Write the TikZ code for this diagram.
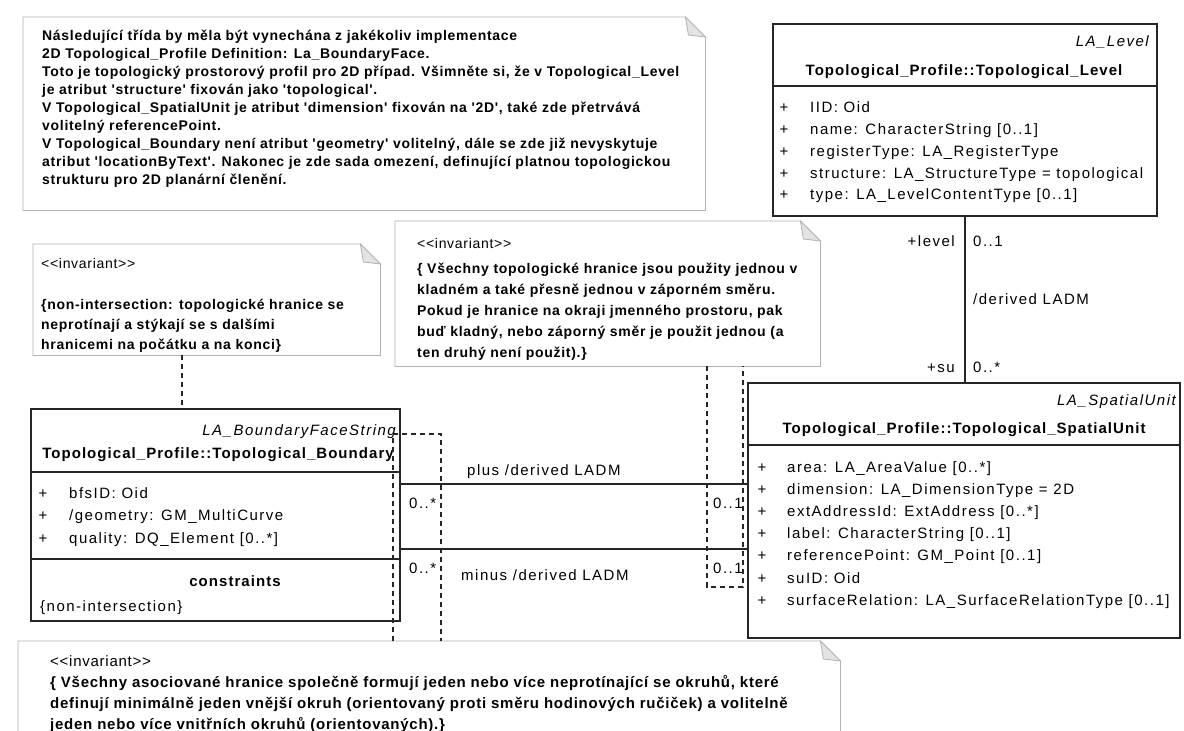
\documentclass[tikz,border=0pt]{standalone}
\usepackage{fontspec}
\setmainfont{Liberation Sans}
\newfontfamily\umlfont[LetterSpace=10]{Liberation Sans}
\newfontfamily\umltitlefont[LetterSpace=7]{Liberation Sans}
\newfontfamily\notefont[LetterSpace=5]{Liberation Sans}

\tikzset{
  umlbox/.style={draw=black!85, line width=1.6pt, fill=white, inner sep=0pt, anchor=north west},
  compline/.style={draw=black!85, line width=1.6pt},
  attr/.style={anchor=base west, inner sep=0pt, font=\umlfont\fontsize{15}{18}\selectfont},
  vis/.style={anchor=base, inner sep=0pt, font=\umlfont\fontsize{15}{18}\selectfont},
  stereo/.style={anchor=base east, inner sep=0pt, font=\umlfont\itshape\fontsize{15}{18}\selectfont},
  ctitle/.style={anchor=base, inner sep=0pt, font=\umltitlefont\bfseries\fontsize{15}{18}\selectfont},
  endlabel/.style={anchor=base west, inner sep=0pt, font=\umlfont\fontsize{15}{18}\selectfont},
  assoc/.style={draw=black!85, line width=1.4pt},
  notebox/.style={inner sep=0pt, anchor=north west},
  noteedge/.style={draw=gray!60, line width=0.8pt},
  notetxt/.style={anchor=base west, inner sep=0pt, font=\notefont\bfseries\fontsize{14}{18}\selectfont},
  notestereo/.style={anchor=base west, inner sep=0pt, font=\notefont\fontsize{14}{18}\selectfont},
  widenotetxt/.style={anchor=base west, inner sep=0pt, font=\notefont\bfseries\fontsize{15}{18}\selectfont},
  widenotestereo/.style={anchor=base west, inner sep=0pt, font=\notefont\fontsize{15}{18}\selectfont},
  constraintlink/.style={draw=black!85, line width=1.4pt, dash pattern=on 5pt off 4pt},
}

% note outline with a folded top-right corner
\newcommand\drawnote[1]{%
  \draw[noteedge, fill=white] (#1.north west) -- ([xshift=-20pt]#1.north east)
    -- ([yshift=-20pt]#1.north east) -- (#1.south east) -- (#1.south west) -- cycle;
  \draw[noteedge, fill=gray!22] ([xshift=-20pt]#1.north east)
    -- ([xshift=-17pt,yshift=-18pt]#1.north east) -- ([yshift=-20pt]#1.north east) -- cycle;
}

\begin{document}
\begin{tikzpicture}[x=1pt,y=-1pt]
\useasboundingbox (0,0) rectangle (1184,731);
\clip (0,0) rectangle (1184,731);
\fill[white] (0,0) rectangle (1184,731);

% ---------- notes ----------
\node[notebox, minimum width=682pt, minimum height=193pt] (tnote) at (23,17) {};
\drawnote{tnote}
\foreach \t [count=\i from 0] in {
  Následující třída by měla být vynechána z jakékoliv implementace,
  2D Topological\_Profile Definition: La\_BoundaryFace.,
  {Toto je topologický prostorový profil pro 2D případ. Všimněte si, že v Topological\_Level},
  je atribut 'structure' fixován jako 'topological'.,
  {V Topological\_SpatialUnit je atribut 'dimension' fixován na '2D', také zde přetrvává},
  volitelný referencePoint.,
  {V Topological\_Boundary není atribut 'geometry' volitelný, dále se zde již nevyskytuje},
  {atribut 'locationByText'. Nakonec je zde sada omezení, definující platnou topologickou},
  strukturu pro 2D planární členění.}
  \node[notetxt] (tn\i) at (42,40+\i*18.1) {\t};

\node[notebox, minimum width=347pt, minimum height=111pt] (lnote) at (33,244) {};
\drawnote{lnote}
\node[notestereo] (lnst) at (41,268) {<<invariant>>};
\foreach \t [count=\i from 0] in {
  {\{non-intersection: topologické hranice se},
  neprotínají a stýkají se s dalšími,
  {hranicemi na počátku a na konci\}}}
  \node[notetxt] (ln\i) at (41,309+\i*20) {\t};

\node[notebox, minimum width=425pt, minimum height=145pt] (mnote) at (395,221) {};
\drawnote{mnote}
\node[notestereo] (mnst) at (417,248) {<<invariant>>};
\foreach \t [count=\i from 0] in {
  {\{ Všechny topologické hranice jsou použity jednou v},
  kladném a také přesně jednou v záporném směru.,
  {Pokud je hranice na okraji jmenného prostoru, pak},
  {buď kladný, nebo záporný směr je použit jednou (a},
  {ten druhý není použit).\}}}
  \node[notetxt] (mn\i) at (417,273+\i*21) {\t};

\node[notebox, minimum width=822pt, minimum height=120pt] (bnote) at (18,641) {};
\drawnote{bnote}
\node[widenotestereo] (bnst) at (50,666) {<<invariant>>};
\foreach \t [count=\i from 0] in {
  {\{ Všechny asociované hranice společně formují jeden nebo více neprotínající se okruhů, které},
  {definují minimálně jeden vnější okruh (orientovaný proti směru hodinových ručiček) a volitelně},
  {jeden nebo více vnitřních okruhů (orientovaných).\}}}
  \node[widenotetxt] (bn\i) at (50,687+\i*21) {\t};

% ---------- class Topological_Level ----------
\node[umlbox, minimum width=384pt, minimum height=192pt] (lvl) at (772,23) {};
\draw[compline] (772,86) -- (1156,86);
\node[stereo] (lvlst) at (1149,46) {LA\_Level};
\node[ctitle] (lvlti) at (964,75) {Topological\_Profile::Topological\_Level};
\foreach \t [count=\i from 0] in {
  IID: Oid,
  name: CharacterString [0..1],
  registerType: LA\_RegisterType,
  structure: LA\_StructureType = topological,
  type: LA\_LevelContentType [0..1]} {
  \node[vis] (lvlv\i) at (784,112.3+\i*21.9) {+};
  \node[attr] (lvla\i) at (810,112.3+\i*21.9) {\t};
}

% ---------- class Topological_SpatialUnit ----------
\node[umlbox, minimum width=432pt, minimum height=255pt] (su) at (747,382) {};
\draw[compline] (747,445) -- (1179,445);
\node[stereo] (sust) at (1176,405) {LA\_SpatialUnit};
\node[ctitle] (suti) at (964,433) {Topological\_Profile::Topological\_SpatialUnit};
\foreach \t [count=\i from 0] in {
  area: LA\_AreaValue [0..*],
  dimension: LA\_DimensionType = 2D,
  extAddressId: ExtAddress [0..*],
  label: CharacterString [0..1],
  referencePoint: GM\_Point [0..1],
  suID: Oid,
  surfaceRelation: LA\_SurfaceRelationType [0..1]} {
  \node[vis] (suv\i) at (762,472+\i*22.2) {+};
  \node[attr] (sua\i) at (787,472+\i*22.2) {\t};
}

% ---------- class Topological_Boundary ----------
\node[umlbox, minimum width=369pt, minimum height=212pt] (bnd) at (30,408) {};
\draw[compline] (30,472) -- (399,472);
\draw[compline] (30,559) -- (399,559);
\node[stereo] (bndst) at (396,435) {LA\_BoundaryFaceString};
\node[ctitle] (bndti) at (218,458) {Topological\_Profile::Topological\_Boundary};
\foreach \t [count=\i from 0] in {
  bfsID: Oid,
  /geometry: GM\_MultiCurve,
  quality: DQ\_Element [0..*]} {
  \node[vis] (bndv\i) at (43,498+\i*22.5) {+};
  \node[attr] (bnda\i) at (69,498+\i*22.5) {\t};
}
\node[ctitle] (bndct) at (235,586) {constraints};
\node[attr] (bndc0) at (40,611) {\{non-intersection\}};

% ---------- associations ----------
\draw[assoc] (lvl.south) -- (lvl.south |- su.north);
\node[endlabel, anchor=base east] (lvlrole) at (955,246) {+level};
\node[endlabel] (lvlmult) at (973,246) {0..1};
\node[endlabel] (lvlname) at (973,304.5) {/derived LADM};
\node[endlabel, anchor=base east] (surole) at (955,372) {+su};
\node[endlabel] (sumult) at (973,372) {0..*};

\coordinate (plusY) at (0,484);
\coordinate (minusY) at (0,549);
\draw[assoc] (bnd.east |- plusY) -- (su.west |- plusY);
\draw[assoc] (bnd.east |- minusY) -- (su.west |- minusY);
\node[endlabel] (plusname) at (467,475) {plus /derived LADM};
\node[endlabel] (minusname) at (461,580) {minus /derived LADM};
\node[endlabel] (plusL) at (409,508) {0..*};
\node[endlabel] (minusL) at (409,573) {0..*};
\node[endlabel] (plusR) at (713,508) {0..1};
\node[endlabel] (minusR) at (713,573) {0..1};

% ---------- constraint links ----------
\coordinate (lk) at (182,0);
\draw[constraintlink] (lnote.south -| lk) -- (bnd.north -| lk);

\coordinate (mA) at (707,587);
\coordinate (mB) at (743,587);
\draw[constraintlink] (mnote.south -| mA) -- (mA) -- (mB) -- (mnote.south -| mB);

\coordinate (bA) at (393,434);
\coordinate (bB) at (441,434);
\draw[constraintlink] (bnote.north -| bA) -- (bA) -- (bB) -- (bnote.north -| bB);
\end{tikzpicture}
\end{document}
